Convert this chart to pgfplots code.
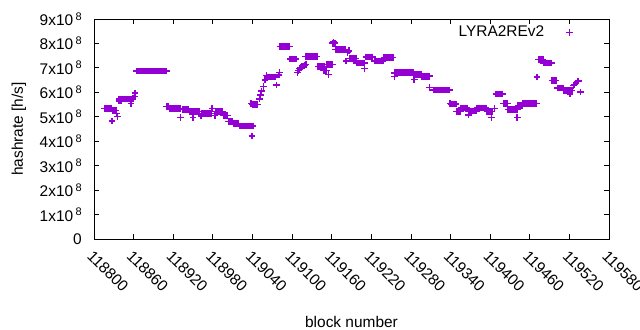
\documentclass[border=0pt]{standalone}
\usepackage{pgfplots}
\pgfplotsset{compat=1.18}
\usepackage{fontspec}
\setmainfont{Liberation Sans}
\definecolor{gpviolet}{RGB}{148,0,211}
\newcommand{\fs}{\fontsize{15.5}{18}\selectfont}
\newcommand{\sx}[1]{#1x10\hspace{2.5bp}\raisebox{5.5bp}{\fontsize{11}{11}\selectfont 8}}
\pgfplotstableread{
x y
118816 5.35
118818 5.35
118820 5.35
118822 5.35
118824 5.35
118826 5.35
118828 5.25
118830 5.25
118832 5.25
118833 5.25
118827 4.82
118836 5.02
118834 5.14
118838 5.72
118840 5.72
118842 5.72
118844 5.72
118846 5.72
118848 5.72
118850 5.72
118852 5.72
118854 5.72
118856 5.72
118858 5.72
118838 5.64
118840 5.64
118842 5.64
118856 5.55
118859 5.76
118861 5.82
118862 5.97
118864 6.87
118866 6.87
118868 6.87
118870 6.87
118872 6.87
118874 6.87
118876 6.87
118878 6.87
118880 6.87
118882 6.87
118884 6.87
118886 6.87
118888 6.87
118890 6.87
118892 6.87
118894 6.87
118896 6.87
118898 6.87
118900 6.87
118902 6.87
118904 6.87
118906 6.87
118908 6.87
118910 6.87
118910 5.41
118912 5.41
118914 5.35
118916 5.35
118918 5.35
118920 5.35
118922 5.35
118924 5.35
118926 5.35
118928 5.35
118930 5.35
118931 4.96
118935 5.31
118937 5.31
118939 5.31
118941 5.31
118943 5.31
118945 5.22
118947 5.22
118949 5.22
118951 5.22
118953 5.22
118955 5.22
118957 5.22
118959 5.22
118960 5.22
118950 4.97
118962 5.03
118963 5.14
118965 5.14
118967 5.14
118969 5.14
118971 5.14
118973 5.14
118975 5.14
118977 5.14
118978 5.14
118979 5.34
118983 5.06
118985 5.21
118987 5.21
118989 5.21
118991 5.21
118993 5.21
118995 5.21
118996 5.05
118998 5.05
119000 5.05
119002 5.05
119004 4.80
119006 4.80
119008 4.80
119010 4.80
119012 4.73
119014 4.73
119016 4.73
119018 4.73
119020 4.62
119022 4.62
119024 4.62
119026 4.62
119028 4.62
119030 4.62
119032 4.62
119034 4.62
119036 4.62
119038 4.62
119040 4.62
119041 4.62
119039 4.22
119038 5.55
119040 5.51
119042 5.51
119044 5.51
119046 5.51
119048 5.51
119051 5.73
119052 5.89
119054 6.06
119057 6.23
119059 6.50
119061 6.68
119063 6.62
119065 6.62
119067 6.62
119069 6.62
119071 6.62
119073 6.62
119074 6.62
119076 6.30
119080 6.71
119081 6.82
119082 7.88
119084 7.88
119086 7.88
119088 7.88
119090 7.88
119092 7.88
119094 7.88
119096 7.88
119097 7.36
119099 7.36
119101 7.36
119103 7.36
119105 7.36
119106 7.36
119108 6.82
119110 6.90
119111 6.98
119113 7.02
119115 7.05
119117 7.08
119119 7.11
119121 7.14
119120 7.47
119122 7.47
119124 7.47
119126 7.47
119128 7.47
119130 7.47
119132 7.47
119134 7.47
119136 7.47
119138 7.47
119139 7.05
119141 7.05
119143 7.05
119145 7.05
119147 7.05
119149 7.05
119148 6.89
119150 6.89
119152 6.89
119155 6.72
119153 7.15
119155 7.15
119157 7.15
119159 7.15
119161 7.15
119161 8.01
119163 8.01
119165 8.01
119163 8.06
119166 7.76
119168 7.76
119170 7.76
119172 7.76
119174 7.76
119176 7.76
119178 7.76
119180 7.76
119181 7.76
119182 7.28
119184 7.62
119186 7.70
119187 7.39
119189 7.39
119191 7.39
119193 7.39
119195 7.39
119197 7.39
119198 7.20
119200 7.20
119202 7.20
119204 7.20
119206 7.20
119208 7.20
119210 7.20
119210 6.97
119212 7.45
119214 7.45
119216 7.45
119218 7.45
119220 7.45
119222 7.45
119225 7.28
119227 7.28
119229 7.28
119231 7.28
119233 7.28
119235 7.28
119237 7.28
119238 7.28
119239 7.43
119241 7.43
119243 7.43
119245 7.43
119247 7.43
119249 7.43
119251 7.43
119253 7.43
119255 6.64
119255 6.80
119257 6.80
119259 6.80
119261 6.80
119263 6.80
119265 6.80
119267 6.80
119269 6.80
119271 6.80
119273 6.80
119275 6.80
119277 6.80
119279 6.80
119281 6.80
119283 6.80
119285 6.52
119286 6.73
119288 6.73
119290 6.73
119292 6.73
119294 6.73
119296 6.73
119297 6.66
119299 6.66
119301 6.66
119303 6.66
119305 6.66
119307 6.66
119308 6.66
119308 6.19
119314 6.09
119316 6.09
119318 6.09
119320 6.09
119322 6.09
119324 6.09
119326 6.09
119328 6.09
119330 6.09
119332 6.09
119334 6.09
119336 6.09
119338 6.09
119339 5.55
119341 5.52
119343 5.52
119345 5.52
119347 5.52
119348 5.52
119349 5.22
119351 5.22
119353 5.22
119355 5.22
119356 5.36
119358 5.36
119360 5.36
119362 5.36
119364 5.36
119365 5.36
119367 5.07
119367 5.24
119369 5.24
119371 5.24
119373 5.24
119375 5.24
119377 5.24
119379 5.24
119380 5.36
119382 5.36
119384 5.36
119386 5.36
119388 5.36
119390 5.36
119392 5.36
119394 5.36
119395 5.22
119397 5.22
119399 5.22
119401 5.22
119403 5.22
119402 4.98
119407 5.35
119409 5.93
119411 5.93
119413 5.93
119415 5.93
119417 5.93
119419 5.93
119420 5.55
119422 5.55
119424 5.55
119426 5.55
119427 5.29
119429 5.29
119431 5.29
119433 5.29
119435 5.29
119437 5.29
119439 5.29
119441 5.29
119441 4.98
119442 5.45
119444 5.45
119446 5.45
119448 5.45
119449 5.55
119451 5.55
119453 5.55
119455 5.55
119457 5.55
119459 5.55
119461 5.55
119463 5.55
119465 5.55
119467 5.55
119469 5.55
119470 5.55
119471 6.62
119473 7.34
119475 7.34
119477 7.34
119479 7.34
119480 7.34
119481 7.20
119483 7.20
119485 7.20
119487 7.20
119489 7.20
119491 7.20
119493 7.20
119494 6.48
119496 6.48
119498 6.48
119500 6.48
119502 6.17
119504 6.17
119506 6.17
119508 6.17
119510 6.17
119511 6.07
119513 6.07
119515 6.07
119517 6.07
119519 6.07
119521 6.07
119523 6.07
119524 6.07
119521 5.93
119526 6.28
119528 6.32
119530 6.38
119532 6.44
119534 6.47
119537 6.02
}\hashdata
\begin{document}
\begin{tikzpicture}
\useasboundingbox (-94bp,-91bp) rectangle (546bp,239bp);
\begin{axis}[
  at={(0,0)}, anchor=south west,
  scale only axis, width=515bp, height=220bp,
  xmin=118800, xmax=119580, ymin=0, ymax=9,
  scaled x ticks=false, scaled y ticks=false,
  xtick={118800,118860,118920,118980,119040,119100,119160,119220,119280,119340,119400,119460,119520,119580},
  xticklabels={118800,118860,118920,118980,119040,119100,119160,119220,119280,119340,119400,119460,119520,119580},
  ytick={0,1,2,3,4,5,6,7,8,9},
  yticklabels={0,\sx{1},\sx{2},\sx{3},\sx{4},\sx{5},\sx{6},\sx{7},\sx{8},\sx{9}},
  tick align=inside, major tick length=5bp,
  axis line style={line width=0.8bp},
  every tick/.style={black, line width=0.8bp},
  xticklabel style={font=\fs, yshift=-10.5bp, rotate=-45, anchor=north west, inner sep=0pt},
  yticklabel style={font=\fs, anchor=east, inner sep=0pt, xshift=-12bp},
  legend plot pos=right,
  legend style={draw=none, fill=none, at={(1,1)}, anchor=north east, xshift=-33bp, yshift=-3bp, font=\fs, column sep=20bp},
  clip=false,
]
\addplot[only marks, mark=+, mark size=3.3bp, color=gpviolet, mark options={line width=1.45bp}] table {\hashdata};
\addlegendentry{LYRA2REv2}
\end{axis}
\node[font=\fs, rotate=90, anchor=base] at (-71bp,110bp) {hashrate [h/s]};
\node[font=\fs, anchor=base] at (257.5bp,-88bp) {block number};
\end{tikzpicture}
\end{document}
